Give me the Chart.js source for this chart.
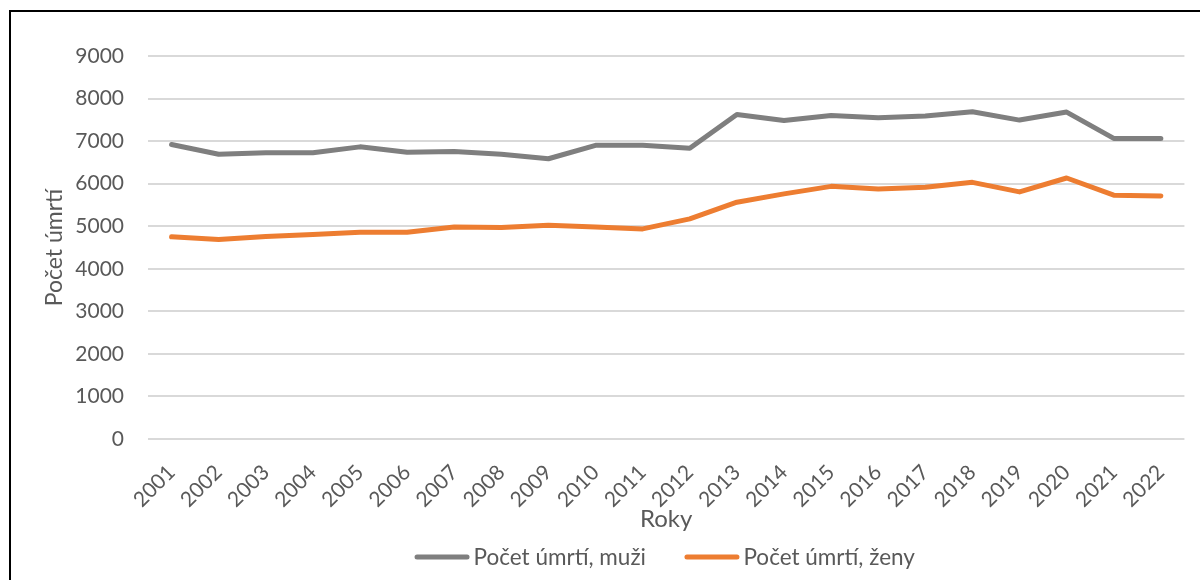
<!DOCTYPE html>
<html>
<head>
<meta charset="utf-8">
<script src="https://cdn.jsdelivr.net/npm/chart.js@4"></script>
<style>
  html, body { margin: 0; padding: 0; background: #fff; }
  #wrap { position: relative; width: 1200px; height: 580px; overflow: hidden; }
  #frame { position: absolute; left: 9px; top: 10px; width: 1400px; height: 800px;
           border-top: 2px solid #000; border-left: 2px solid #000; }
  canvas { position: absolute; left: 0; top: 0; }
</style>
</head>
<body>
<div id="wrap">
  <div id="frame"></div>
  <canvas id="c" width="1200" height="580"></canvas>
</div>
<script>
const years = ['2001','2002','2003','2004','2005','2006','2007','2008','2009','2010','2011',
               '2012','2013','2014','2015','2016','2017','2018','2019','2020','2021','2022'];
const muzi = [6920, 6690, 6725, 6725, 6865, 6740, 6755, 6690, 6585, 6900, 6900,
              6830, 7627, 7486, 7604, 7549, 7588, 7690, 7494, 7682, 7063, 7063];
const zeny = [4750, 4686, 4757, 4804, 4859, 4859, 4984, 4969, 5024, 4984, 4937,
              5172, 5564, 5760, 5937, 5875, 5914, 6031, 5807, 6133, 5729, 5713];
const seriesNames = ['Počet úmrtí, muži', 'Počet úmrtí, ženy'];
const yTitle = 'Počet úmrtí';
const xTitle = 'Roky';

const FONT = 'Lato';
const TXT = '#595959';

// Legend drawn from the chart's datasets (labels + colours), Excel-style line swatches
const lineLegend = {
  id: 'lineLegend',
  afterDraw(chart) {
    const ctx = chart.ctx;
    const fontSize = 22.5;
    const swatch = 50, gapText = 6.5, gapItem = 41, cy = 557, centerX = 666;
    ctx.save();
    ctx.font = fontSize + 'px ' + FONT;
    const items = chart.data.datasets.map(ds => ({
      text: ds.label, color: ds.borderColor, w: ctx.measureText(ds.label).width
    }));
    let total = 0;
    items.forEach((it, i) => { total += swatch + gapText + it.w + (i ? gapItem : 0); });
    let x = centerX - total / 2;
    items.forEach((it, i) => {
      if (i) x += gapItem;
      ctx.strokeStyle = it.color;
      ctx.lineWidth = 5;
      ctx.lineCap = 'round';
      ctx.beginPath();
      ctx.moveTo(x, cy);
      ctx.lineTo(x + swatch, cy);
      ctx.stroke();
      x += swatch + gapText;
      ctx.fillStyle = TXT;
      ctx.textBaseline = 'alphabetic';
      ctx.textAlign = 'left';
      ctx.fillText(it.text, x, cy + 8);
      x += it.w;
    });
    ctx.restore();
  }
};

new Chart(document.getElementById('c'), {
  type: 'line',
  data: {
    labels: years,
    datasets: [
      { label: seriesNames[0], data: muzi, borderColor: '#7f7f7f', backgroundColor: '#7f7f7f',
        borderWidth: 5, pointRadius: 0, tension: 0, borderCapStyle: 'round', borderJoinStyle: 'round' },
      { label: seriesNames[1], data: zeny, borderColor: '#ed7d31', backgroundColor: '#ed7d31',
        borderWidth: 5, pointRadius: 0, tension: 0, borderCapStyle: 'round', borderJoinStyle: 'round' }
    ]
  },
  options: {
    responsive: false,
    animation: false,
    layout: { padding: { left: 0, right: 14, top: 56, bottom: 43 } },
    plugins: {
      legend: { display: false },
      tooltip: { enabled: false }
    },
    scales: {
      x: {
        offset: true,
        grid: { display: false, drawTicks: false },
        border: { display: false },
        ticks: { autoSkip: false, minRotation: 45, maxRotation: 45, color: TXT,
                 font: { family: FONT, size: 21 }, padding: 21 },
        title: { display: true, text: xTitle, color: TXT, font: { family: FONT, size: 24 },
                 padding: { top: 0, bottom: 3 } },
        afterFit(s) { s.height = 98; }
      },
      y: {
        min: 0, max: 9000,
        grid: { color: '#d9d9d9', lineWidth: 2, drawTicks: false },
        border: { display: false },
        ticks: { stepSize: 1000, color: TXT, font: { family: FONT, size: 21 }, padding: 24,
                 callback: v => String(v) },
        title: { display: true, text: yTitle, color: TXT, font: { family: FONT, size: 23 },
                 padding: { top: 41, bottom: 0 } },
        afterFit(s) { s.width = 148; }
      }
    }
  },
  plugins: [lineLegend]
});
</script>
</body>
</html>
